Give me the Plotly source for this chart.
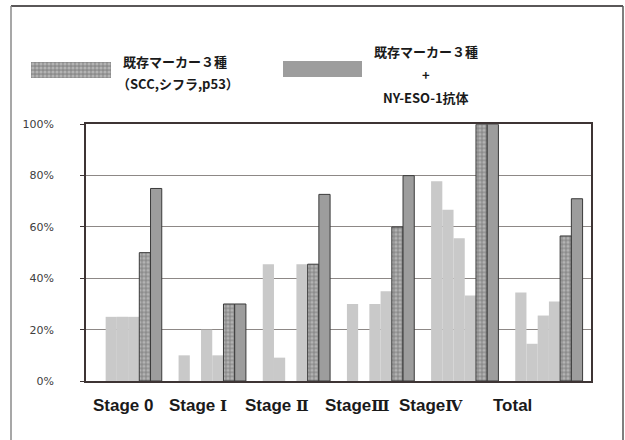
import plotly.graph_objects as go

# ---- data (% positive) ----
categories = ["Stage 0", "Stage Ⅰ", "Stage Ⅱ", "StageⅢ", "StageⅣ", "Total"]
scc = [0, 10, 45.5, 30, 77.8, 34.5]
cyfra = [25, 0, 9.1, 0, 66.7, 14.5]
p53 = [25, 20, 0, 30, 55.6, 25.5]
ny_eso1 = [25, 10, 45.5, 35, 33.3, 31]
existing_three = [50, 30, 45.5, 60, 100, 56.5]
three_plus_nyeso = [75, 30, 72.7, 80, 100, 71]

legend_names = ["既存マーカー３種（SCC,シフラ,p53）", "既存マーカー３種＋NY-ESO-1抗体"]

W, H = 625, 440


def fx(p):
    return p / W


def fy(p):
    return 1 - p / H


def label_markup(text):
    # Roman numerals set in a bold serif face, the rest in bold Latin sans
    out = ""
    for ch in text:
        if "\u2160" <= ch <= "\u216f":
            out += "<span style=\"font-family:'DejaVu Serif';font-size:15px\">%s</span>" % ch
        else:
            out += ch
    return "<b>%s</b>" % out


LIGHT = "#c9c9c9"
DARK = "#9d9d9d"
EDGE = "#3a3a3a"
dot_pattern = dict(shape=".", bgcolor="#8c8c8c", fgcolor="#dadada", size=4, solidity=0.5)

fig = go.Figure()

for name, vals in zip(["SCC", "シフラ", "p53", "NY-ESO-1"], [scc, cyfra, p53, ny_eso1]):
    fig.add_bar(x=categories, y=vals, name=name, showlegend=False,
                marker=dict(color=LIGHT, line=dict(width=0)))

fig.add_bar(x=categories, y=existing_three, name=legend_names[0], showlegend=False,
            marker=dict(color="#8c8c8c", pattern=dot_pattern, line=dict(color=EDGE, width=1)))
fig.add_bar(x=categories, y=three_plus_nyeso, name=legend_names[1], showlegend=False,
            marker=dict(color=DARK, line=dict(color=EDGE, width=1)))

# legend swatches drawn as single bars in their own small axes
fig.add_bar(x=[0], y=[1], width=[1], xaxis="x2", yaxis="y2", showlegend=False, hoverinfo="skip",
            marker=dict(color="#8c8c8c", pattern=dot_pattern, line=dict(width=0)))
fig.add_bar(x=[0], y=[1], width=[1], xaxis="x3", yaxis="y3", showlegend=False, hoverinfo="skip",
            marker=dict(color=DARK, line=dict(width=0)))

swatch_axis = dict(visible=False, fixedrange=True, automargin=False)

fig.update_layout(
    width=W, height=H,
    margin=dict(l=0, r=0, t=0, b=0, autoexpand=False),
    paper_bgcolor="white", plot_bgcolor="white",
    barmode="group", bargap=0.2, bargroupgap=0,
    showlegend=False,
    xaxis=dict(domain=[fx(86), fx(591)], showticklabels=False, ticks="", automargin=False,
               showline=True, linecolor="#3d3434", linewidth=1.5, mirror=True,
               showgrid=False, zeroline=False),
    yaxis=dict(domain=[fy(381), fy(124.3)], range=[0, 100], dtick=20, ticksuffix="%",
               ticks="outside", ticklen=4, tickcolor="#3d3434", ticklabelstandoff=24,
               automargin=False,
               tickfont=dict(family="DejaVu Sans", size=11, color="#404040"),
               showline=True, linecolor="#3d3434", linewidth=1.5, mirror=True,
               showgrid=True, gridcolor="#8d8886", gridwidth=1, zeroline=False),
    yaxis4=dict(overlaying="y", anchor="x", range=[0, 100], tickvals=[20, 60, 100],
                showticklabels=False, ticks="", showline=False, zeroline=False, automargin=False,
                showgrid=True, gridcolor="#231f20", gridwidth=1),
    xaxis2=dict(domain=[fx(31), fx(111)], range=[-0.5, 0.5], anchor="y2", **swatch_axis),
    yaxis2=dict(domain=[fy(78), fy(62)], range=[0, 1], anchor="x2", **swatch_axis),
    xaxis3=dict(domain=[fx(283), fx(362)], range=[-0.5, 0.5], anchor="y3", **swatch_axis),
    yaxis3=dict(domain=[fy(77), fy(61)], range=[0, 1], anchor="x3", **swatch_axis),
)

# category labels
label_x = [123, 198, 277, 357, 431, 512]
for cat, xp in zip(categories, label_x):
    fig.add_annotation(text=label_markup(cat), xref="paper", yref="paper", x=fx(xp), y=fy(405),
                       xanchor="center", yanchor="middle", showarrow=False,
                       font=dict(family="Liberation Sans", size=17, color="#1a1a1a"))

# legend texts
lf = dict(family="Noto Sans CJK JP", size=13, color="#1a1a1a")
fig.add_annotation(text="<b>既存マーカー３種</b>", xref="paper", yref="paper", x=fx(121), y=fy(62),
                   xanchor="left", yanchor="middle", showarrow=False, font=lf)
fig.add_annotation(text="<b>（SCC,シフラ,p53）</b>", xref="paper", yref="paper", x=fx(115), y=fy(83.5),
                   xanchor="left", yanchor="middle", showarrow=False, font=lf)
for txt, yp in [("既存マーカー３種", 52), ("+", 75), ("NY-ESO-1抗体", 97)]:
    fig.add_annotation(text="<b>%s</b>" % txt, xref="paper", yref="paper", x=fx(426), y=fy(yp),
                       xanchor="center", yanchor="middle", showarrow=False, font=lf)

# outer frame
fig.add_shape(type="line", xref="paper", yref="paper", x0=fx(11), x1=fx(623), y0=fy(6), y1=fy(6),
              line=dict(color="#231f20", width=1.5))
fig.add_shape(type="line", xref="paper", yref="paper", x0=fx(11), x1=fx(11), y0=fy(6), y1=fy(440),
              line=dict(color="#8a8a8a", width=1.5))
fig.add_shape(type="line", xref="paper", yref="paper", x0=fx(623), x1=fx(623), y0=fy(6), y1=fy(440),
              line=dict(color="#555555", width=1.5))

fig.write_html("out.html")
